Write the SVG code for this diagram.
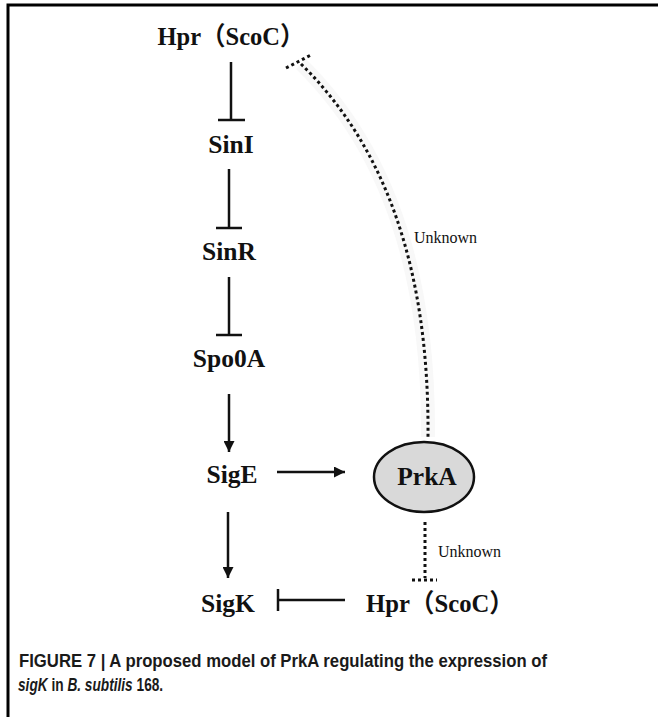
<svg xmlns="http://www.w3.org/2000/svg" width="658" height="717" viewBox="0 0 658 717">
<style>
.lbl{font-family:"Liberation Serif","Noto Sans CJK SC",serif;font-weight:bold;font-size:25.5px;fill:#111;text-anchor:middle}
.unk{font-family:"Liberation Serif",serif;font-size:16px;fill:#111}
.ln{stroke:#111;stroke-width:2.5;fill:none}
.dot{stroke:#111;stroke-width:3;fill:none;stroke-dasharray:3 3}
.cap{font-family:"Liberation Sans",Arial,sans-serif;font-weight:bold;font-size:19px;fill:#1a1a1a}
.it{font-style:italic}
</style>
<defs>
<marker id="arr" viewBox="0 0 10 10" refX="10" refY="5" markerWidth="4.4" markerHeight="4.4" orient="auto" markerUnits="strokeWidth">
<path d="M0,0 L10,5 L0,10 z" fill="#111"/>
</marker>
</defs>
<rect width="658" height="717" fill="#fff"/>
<path d="M8,717 V5 H658" stroke="#000" stroke-width="3" fill="none"/>

<g id="connectors">
<line class="ln" x1="231" y1="62" x2="231" y2="120"/>
<line class="ln" x1="218" y1="120" x2="245" y2="120"/>
<line class="ln" x1="229" y1="169" x2="229" y2="228"/>
<line class="ln" x1="216" y1="228" x2="242" y2="228"/>
<line class="ln" x1="229" y1="277" x2="229" y2="335"/>
<line class="ln" x1="216" y1="335" x2="242" y2="335"/>
<line class="ln" x1="229" y1="394" x2="229" y2="452" marker-end="url(#arr)"/>
<line class="ln" x1="277" y1="472" x2="345" y2="472" marker-end="url(#arr)"/>
<line class="ln" x1="228" y1="512" x2="228" y2="578" marker-end="url(#arr)"/>
<line class="ln" x1="278" y1="600" x2="345" y2="600"/>
<line class="ln" x1="278" y1="589" x2="278" y2="611"/>
<path d="M301,64 Q430,190 428,437" stroke="#f8f8f8" stroke-width="14" fill="none"/>
<path class="dot" d="M301,64 Q430,190 428,437"/>
<line class="dot" x1="286" y1="68" x2="311" y2="55"/>
<line class="dot" x1="425" y1="522" x2="425" y2="578"/>
<line class="dot" x1="412" y1="580" x2="437" y2="580"/>
<text class="unk" x="414" y="243">Unknown</text>
<text class="unk" x="438" y="557">Unknown</text>
</g>

<g id="node-hpr-top"><text class="lbl" x="231" y="45" textLength="147" lengthAdjust="spacingAndGlyphs">Hpr（ScoC）</text></g>
<g id="node-sini"><text class="lbl" x="231" y="153">SinI</text></g>
<g id="node-sinr"><text class="lbl" x="229" y="260">SinR</text></g>
<g id="node-spo0a"><text class="lbl" x="229" y="367">Spo0A</text></g>
<g id="node-sige"><text class="lbl" x="232" y="483">SigE</text></g>
<g id="node-prka">
<ellipse cx="424" cy="477" rx="50" ry="35" fill="#d9d9d9" stroke="#111" stroke-width="2.5"/>
<text class="lbl" x="427" y="485">PrkA</text>
</g>
<g id="node-sigk"><text class="lbl" x="228" y="612">SigK</text></g>
<g id="node-hpr-bottom"><text class="lbl" x="440" y="612" textLength="148" lengthAdjust="spacingAndGlyphs">Hpr（ScoC）</text></g>

<g id="caption">
<text class="cap" x="19" y="667" textLength="528" lengthAdjust="spacingAndGlyphs">FIGURE 7 | A proposed model of PrkA regulating the expression of</text>
<text class="cap" transform="translate(18,691) scale(0.72,1)" x="0" y="0"><tspan class="it">sigK</tspan> in <tspan class="it">B. subtilis</tspan> 168.</text>
</g>
</svg>
